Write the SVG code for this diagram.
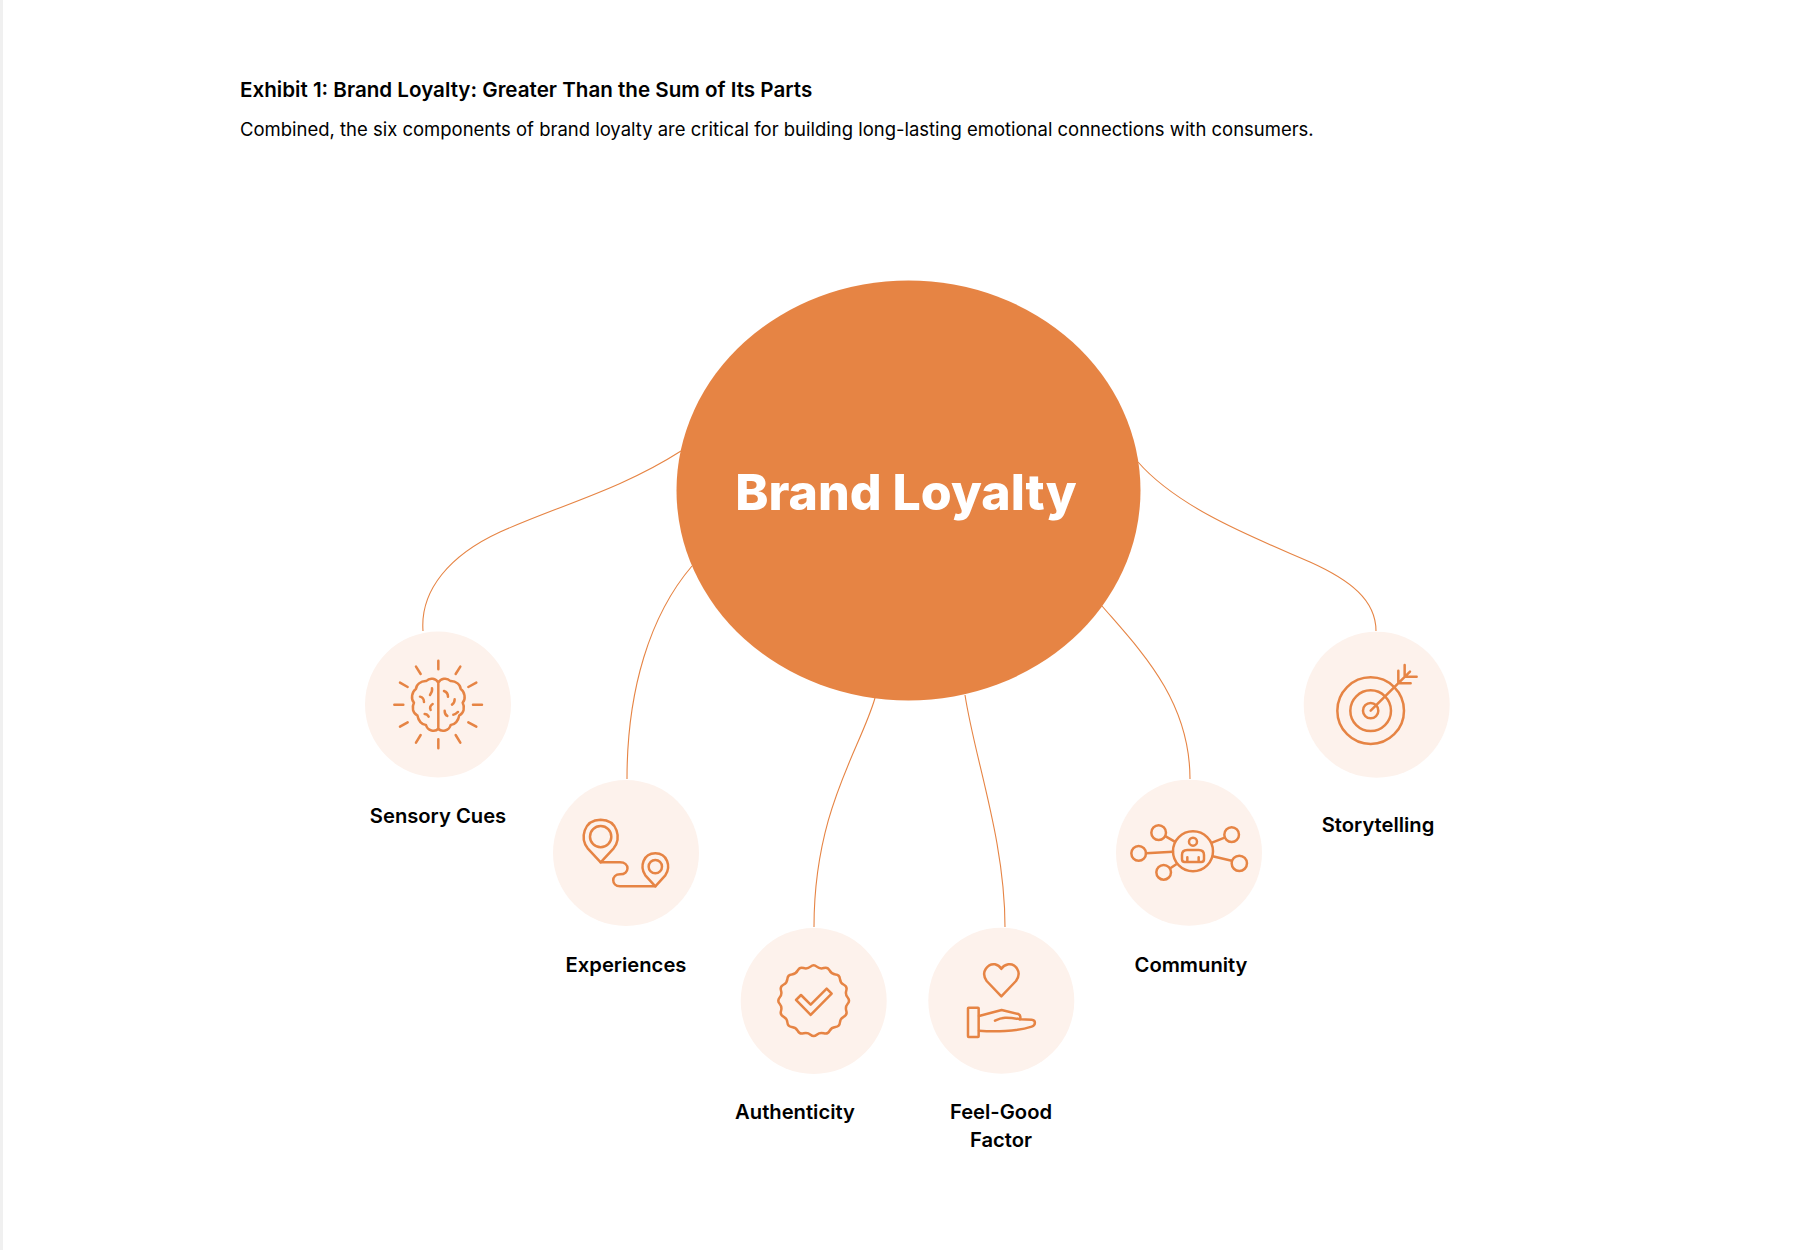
<svg xmlns="http://www.w3.org/2000/svg" width="1810" height="1250" viewBox="0 0 1810 1250">
<style>
text{font-family:Inter,"Liberation Sans",sans-serif;fill:#000}
.t{font-size:20.6px;font-weight:600}
.s{font-size:18.48px;font-weight:400}
.l{font-size:20.2px;font-weight:600;text-anchor:middle}
.disc{fill:#fdf2ec}
.ic{fill:none;stroke:#e68444;stroke-width:7.5;stroke-linecap:round;stroke-linejoin:round}
.c{fill:none;stroke:#e68444;stroke-width:1.1}
</style>
<rect width="1810" height="1250" fill="#fff"/>
<rect width="3" height="1250" fill="#f0f0f0"/>
<text class="t" x="240" y="97">Exhibit 1: Brand Loyalty: Greater Than the Sum of Its Parts</text>
<text class="s" x="240" y="136">Combined, the six components of brand loyalty are critical for building long-lasting emotional connections with consumers.</text>
<g id="connectors">
<path class="c" d="M681 451C620 490 560 505 500 532C450 555 420 590 423 631"/>
<path class="c" d="M692 566C650 615 627 690 627 779"/>
<path class="c" d="M875 698C860 750 814 810 814 927"/>
<path class="c" d="M965 695C975 760 1005 840 1005 927"/>
<path class="c" d="M1102 606C1140 650 1190 700 1190 779"/>
<path class="c" d="M1138 462C1180 510 1260 540 1310 562C1350 580 1376 600 1376 631"/>
</g>
<g id="center">
<ellipse cx="908.5" cy="490.5" rx="232" ry="210" fill="#e68444"/>
<text x="906" y="510" text-anchor="middle" style="fill:#fff;font-size:50px;font-weight:800">Brand Loyalty</text>
</g>
<g id="sensory-cues">
<circle class="disc" cx="438" cy="704.5" r="73"/>
<g class="ic" transform="translate(350 610) scale(.3333)">
<path d="M265 152V178M198 170L212 192M150 218L173 231M133 284H160M150 350L173 337M198 398L212 375M265 388V415M317 375L331 398M355 337L379 350M369 284H396M355 231L379 218M317 192L331 170"/>
<path d="M265 218V356M265 218C258 206 240 201 229 213C212 212 198 225 198 237C185 245 182 268 192 278C185 292 188 310 202 316C205 332 215 345 228 345C232 362 255 368 265 356M265 218C272 206 290 201 301 213C318 212 332 225 332 237C345 245 348 268 338 278C345 292 342 310 328 316C325 332 315 345 302 345C298 362 275 368 265 356"/>
<path d="M240 255C245 248 248 243 246 235M210 260C218 262 222 268 222 276M248 282C242 286 238 292 242 300M224 312C230 312 234 316 236 320M282 243C290 246 294 252 294 260M314 268C314 276 312 280 306 284M284 302C284 310 288 316 292 318M310 314C316 314 320 310 324 306"/>
</g>
<text class="l" x="438" y="823">Sensory Cues</text>
</g>
<g id="experiences">
<circle class="disc" cx="626" cy="853" r="73"/>
<g class="ic" transform="translate(540 770) scale(.3333)">
<circle cx="182" cy="200" r="32"/>
<path d="M182 277L143 235C120 205 130 150 182 149C234 150 244 205 221 235Z"/>
<circle cx="346" cy="290" r="20"/>
<path d="M346 349L316 316C298 290 310 250 346 250C382 250 394 290 376 316Z"/>
<path d="M182 277H240C270 277 270 313 240 313C213 313 213 349 240 349H346"/>
</g>
<text class="l" x="626" y="972">Experiences</text>
</g>
<g id="authenticity">
<circle class="disc" cx="813.7" cy="1001" r="73"/>
<g class="ic" transform="translate(730 920) scale(.3333)">
<path transform="translate(251 242)" d="M102.1 -9.35Q110 0 102.1 9.35Q94.2 18.7 97.9 30.4Q101.6 42.1 90.7 47.7Q79.8 53.3 78.8 65.55Q77.8 77.8 65.55 78.8Q53.3 79.8 47.7 90.7Q42.1 101.6 30.4 97.9Q18.7 94.2 9.35 102.1Q0 110 -9.35 102.1Q-18.7 94.2 -30.4 97.9Q-42.1 101.6 -47.7 90.7Q-53.3 79.8 -65.55 78.8Q-77.8 77.8 -78.8 65.55Q-79.8 53.3 -90.7 47.7Q-101.6 42.1 -97.9 30.4Q-94.2 18.7 -102.1 9.35Q-110 0 -102.1 -9.35Q-94.2 -18.7 -97.9 -30.4Q-101.6 -42.1 -90.7 -47.7Q-79.8 -53.3 -78.8 -65.55Q-77.8 -77.8 -65.55 -78.8Q-53.3 -79.8 -47.7 -90.7Q-42.1 -101.6 -30.4 -97.9Q-18.7 -94.2 -9.35 -102.1Q0 -110 9.35 -102.1Q18.7 -94.2 30.4 -97.9Q42.1 -101.6 47.7 -90.7Q53.3 -79.8 65.55 -78.8Q77.8 -77.8 78.8 -65.55Q79.8 -53.3 90.7 -47.7Q101.6 -42.1 97.9 -30.4Q94.2 -18.7 102.1 -9.35Z"/>
<path d="M198 240L213 225L242 254L290 206L305 221L242 285Z"/>
</g>
<text class="l" x="795" y="1119">Authenticity</text>
</g>
<g id="feel-good-factor">
<circle class="disc" cx="1001.3" cy="1000.7" r="73"/>
<g class="ic" transform="translate(920 920) scale(.3333)">
<path d="M244 229L200 183C180 155 205 130 225 133C235 135 240 140 244 147C248 140 255 135 265 133C285 130 308 155 288 183Z"/>
<rect x="144" y="263" width="32" height="88" rx="2"/>
<path d="M177 288L245 270L295 282C302 285 302 292 300 298L335 299C348 300 348 315 335 320C290 335 220 336 177 332"/>
<path d="M225 302C245 292 260 290 300 298"/>
</g>
<text class="l" x="1001" y="1119">Feel-Good</text>
<text class="l" x="1001" y="1147">Factor</text>
</g>
<g id="community">
<circle class="disc" cx="1189" cy="852.7" r="73"/>
<g class="ic" transform="translate(1110 770) scale(.3333)">
<circle cx="249" cy="244" r="60"/>
<circle cx="249" cy="215" r="12"/>
<path d="M216 268V255Q216 240 232 240H266Q282 240 282 255V268Q282 276 274 276H224Q216 276 216 268ZM232 262V276M266 262V276"/>
<circle cx="146" cy="188" r="22"/>
<circle cx="86" cy="250" r="22"/>
<circle cx="161" cy="307" r="22"/>
<circle cx="365" cy="194" r="22"/>
<circle cx="388" cy="280" r="23"/>
<path d="M167 199L193 214M108 250L189 245M182 294L200 282M306 218L344 203M308 259L365 272"/>
</g>
<text class="l" x="1191" y="972">Community</text>
</g>
<g id="storytelling">
<circle class="disc" cx="1376.7" cy="704.7" r="73"/>
<g class="ic" transform="translate(1300 625) scale(.3333)">
<circle cx="212" cy="257" r="100"/>
<circle cx="212" cy="257" r="61"/>
<circle cx="212" cy="257" r="23"/>
<path d="M212 257L330 140M295 137V175H332M314 120V155H350"/>
</g>
<text class="l" x="1378" y="832">Storytelling</text>
</g>
</svg>
